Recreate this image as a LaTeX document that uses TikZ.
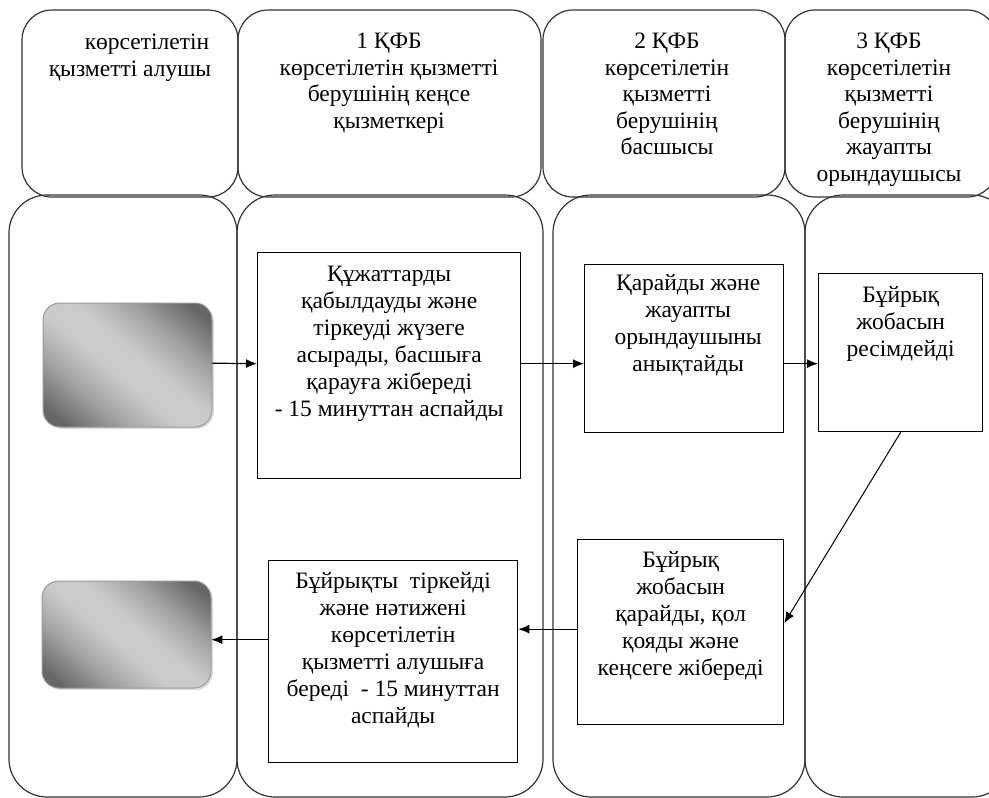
\documentclass[tikz,border=0pt]{standalone}
\usepackage{fontspec}
\setmainfont{Liberation Serif}
\usepackage{tikz}
\usetikzlibrary{arrows.meta}
\usetikzlibrary{positioning,calc}
\definecolor{shdark}{HTML}{666666}
\definecolor{shmid}{HTML}{A2A2A2}
\definecolor{shlight}{HTML}{CBCBCB}
\pgfdeclareverticalshading{startshade}{100bp}{%
	color(0bp)=(shdark); color(20bp)=(shdark); color(33bp)=(shmid);
	color(45bp)=(shlight); color(55bp)=(shlight);
	color(67bp)=(shmid); color(80bp)=(shdark); color(100bp)=(shdark)}
\tikzset{
	thick,
	>=latex,
	lane/.style = {
			draw            = black!80,
			line width      = 1.2pt,
			rounded corners = 38pt,
		},
	head/.style = {
			draw            = black!80,
			line width      = 1.2pt,
			rounded corners = 30pt,
		},
	procbox/.style = {
			draw,
			line width = 1.3pt,
			anchor     = north west,
			inner sep  = 0pt,
		},
	boxtext/.style = {
			align     = center,
			inner sep = 0pt,
			font      = \fontsize{23.5}{27}\selectfont,
		},
	headtext/.style = {
			boxtext,
			anchor = north,
			font   = \fontsize{23.5}{26.5}\selectfont,
		},
	startbox/.style = {
			draw            = gray!80,
			line width      = 1pt,
			rounded corners = 17pt,
			shading         = startshade,
			shading angle   = -40,
		},
	startshadow/.style = {
			fill            = black,
			opacity         = 0.12,
			rounded corners = 17pt,
		},
	arr/.style = {
			-{Latex[length=11pt,width=9pt]},
			line width = 1.2pt,
		},
}

\begin{document}
\begin{tikzpicture}[x=1pt,y=-1pt]
	\useasboundingbox (0,0) rectangle (989,798);
	\clip (0,0) rectangle (989,798);

	% Column headers
	\draw[head] (22,10) rectangle (238,197);
	\draw[head] (238,10) rectangle (541,197);
	\draw[head] (543,10) rectangle (785,197);
	\draw[head] (785,10) rectangle (997,197);

	\node[headtext] (h1) at (130,34) {\hspace*{34pt}көрсетілетін\\қызметті алушы};
	\node[headtext] (h2) at (389,33) {1 ҚФБ\\көрсетілетін қызметті\\берушінің кеңсе\\қызметкері};
	\node[headtext] (h3) at (667,33) {2 ҚФБ\\көрсетілетін\\қызметті\\берушінің\\ басшысы};
	\node[headtext] (h4) at (889,33) {3 ҚФБ\\көрсетілетін\\қызметті\\берушінің\\жауапты\\орындаушысы};

	% Swimlanes
	\draw[lane] (9,195) rectangle (237,797);
	\draw[lane] (237,195) rectangle (543,797);
	\draw[lane] (553,195) rectangle (805,797);
	\draw[lane] (805,195) rectangle (1010,797);

	% Start and end shapes (drawn with the usual y axis so the shading behaves)
	\begin{scope}[y=1pt]
		\fill[startshadow] (45,-305) rectangle (214,-429);
		\shade[startbox] (43,-303) rectangle (212,-427);
		\fill[startshadow] (44,-583) rectangle (213,-690);
		\shade[startbox] (42,-581) rectangle (211,-688);
	\end{scope}
	\node[minimum width=169pt, minimum height=124pt, anchor=north west, inner sep=0pt] (g1) at (43,303) {};
	\node[minimum width=169pt, minimum height=107pt, anchor=north west, inner sep=0pt] (g2) at (42,581) {};

	% Process steps
	\node[procbox, minimum width=263pt, minimum height=226pt] (b1) at (257,252) {};
	\node[boxtext, below=14pt of b1.north] (t1) {Құжаттарды\\қабылдауды және\\тіркеуді жүзеге\\асырады, басшыға\\қарауға жібереді\\ - 15 минуттан аспайды};

	\node[procbox, minimum width=199pt, minimum height=168pt] (b2) at (584,264) {};
	\node[boxtext, below=10pt of b2.north, xshift=4pt] (t2) {Қарайды және\\жауапты\\орындаушыны\\анықтайды};

	\node[procbox, minimum width=164pt, minimum height=158pt] (b3) at (818,273) {};
	\node[boxtext, below=13pt of b3.north] (t3) {Бұйрық\\жобасын\\ресімдейді};

	\node[procbox, minimum width=206pt, minimum height=185pt] (b4) at (577,539) {};
	\node[boxtext, below=12pt of b4.north] (t4) {Бұйрық\\жобасын\\қарайды, қол\\қояды және\\кеңсеге жібереді};

	\node[procbox, minimum width=249pt, minimum height=202pt] (b5) at (268,560) {};
	\node[boxtext, below=12pt of b5.north] (t5) {Бұйрықты\ \ тіркейді\\және нәтижені\\көрсетілетін\\қызметті алушыға\\береді\ \ - 15 минуттан\\аспайды};

	% Flow
	\draw[arr] ([yshift=2pt]g1.east) -- ([yshift=2pt]b1.west);
	\draw[arr] ([yshift=2pt]b1.east) -- ([yshift=2pt]b1.east -| b2.west);
	\draw[arr] ([yshift=2pt]b1.east -| b2.east) -- ([yshift=2pt]b1.east -| b3.west);
	\draw[arr, line width=1pt] (b3.south) -- ([yshift=9pt]b4.east);
	\draw[arr] ([yshift=3pt]b4.west) -- ([yshift=3pt]b4.west -| b5.east);
	\draw[arr] ([yshift=-5pt]g2.east -| b5.west) -- ([yshift=-5pt]g2.east);
\end{tikzpicture}
\end{document}
